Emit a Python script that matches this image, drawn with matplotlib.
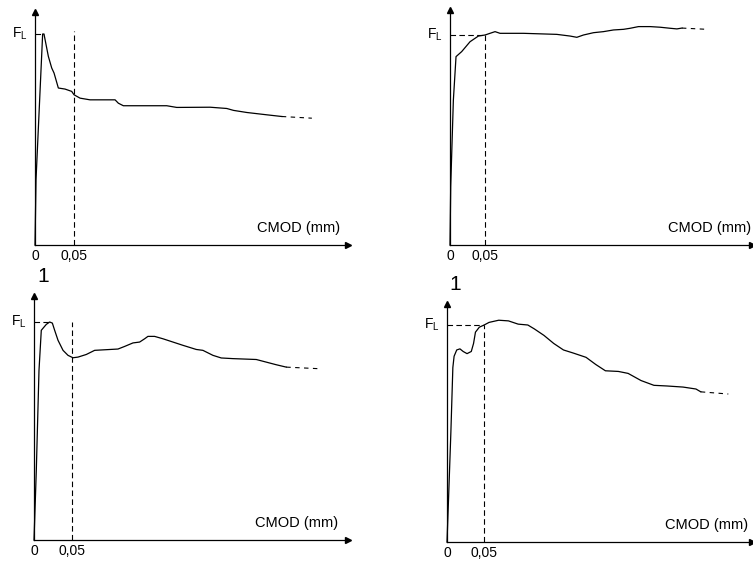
import matplotlib
matplotlib.use('Agg')
import matplotlib.pyplot as plt

plt.rcParams['font.family'] = ['Liberation Sans', 'DejaVu Sans']

# curve data: CMOD (mm) and load relative to F_L
x1 = [0, 0.0013, 0.0098, 0.0115, 0.0171, 0.0214, 0.0244, 0.0299, 0.0385, 0.047,
      0.05, 0.0577, 0.0705, 0.1026, 0.1068, 0.1132, 0.1474, 0.1688, 0.1816,
      0.2244, 0.2457, 0.2543, 0.2714, 0.297, 0.3162]
y1 = [0, 0.31, 1.0, 1.0, 0.894, 0.839, 0.815, 0.744, 0.739, 0.728,
      0.712, 0.696, 0.688, 0.688, 0.672, 0.660, 0.660, 0.660, 0.652,
      0.653, 0.647, 0.638, 0.628, 0.617, 0.609]
tail1 = ([0.3162, 0.3547], [0.609, 0.601])

x2 = [0, 0.001, 0.0048, 0.0086, 0.0167, 0.0286, 0.0405, 0.05, 0.0571, 0.0643,
      0.0714, 0.1048, 0.1524, 0.1714, 0.181, 0.1905, 0.2048, 0.219, 0.2333,
      0.2476, 0.2571, 0.269, 0.2857, 0.3, 0.3143, 0.3238, 0.331]
y2 = [0, 0.278, 0.690, 0.897, 0.921, 0.968, 0.995, 1.0, 1.008, 1.016,
      1.008, 1.008, 1.003, 0.995, 0.989, 1.0, 1.011, 1.016, 1.024,
      1.027, 1.032, 1.040, 1.040, 1.037, 1.032, 1.029, 1.033]
tail2 = ([0.331, 0.3667], [1.033, 1.027])

x3 = [0, 0.003, 0.0065, 0.0095, 0.016, 0.0204, 0.0239, 0.0269, 0.0313, 0.0378,
      0.0443, 0.0508, 0.0573, 0.0681, 0.079, 0.0942, 0.1094, 0.1181, 0.1289,
      0.1376, 0.1441, 0.1484, 0.1571, 0.168, 0.181, 0.194, 0.2114, 0.22,
      0.2331, 0.2439, 0.2591, 0.2895, 0.3025, 0.3155, 0.3286]
y3 = [0, 0.319, 0.778, 0.962, 0.989, 1.0, 0.995, 0.962, 0.916, 0.870,
      0.847, 0.836, 0.839, 0.851, 0.870, 0.873, 0.876, 0.888, 0.904,
      0.908, 0.923, 0.934, 0.934, 0.923, 0.908, 0.893, 0.874, 0.870,
      0.847, 0.835, 0.832, 0.828, 0.816, 0.804, 0.793]
tail3 = ([0.3286, 0.3698], [0.793, 0.786])

x4 = [0, 0.0022, 0.0053, 0.008, 0.0097, 0.0133, 0.0177, 0.0221, 0.0274, 0.0332,
      0.0363, 0.0389, 0.0442, 0.0508, 0.0575, 0.0707, 0.084, 0.0973, 0.1105,
      0.1194, 0.1326, 0.1459, 0.1592, 0.1724, 0.1901, 0.2034, 0.2166, 0.2343,
      0.2476, 0.2653, 0.2829, 0.3006, 0.3227, 0.3404, 0.347]
y4 = [0, 0.208, 0.506, 0.804, 0.856, 0.885, 0.890, 0.878, 0.868, 0.878,
      0.915, 0.967, 0.990, 1.0, 1.012, 1.022, 1.019, 1.004, 1.0,
      0.982, 0.952, 0.915, 0.885, 0.871, 0.851, 0.818, 0.789, 0.786,
      0.777, 0.744, 0.722, 0.719, 0.714, 0.705, 0.692]
tail4 = ([0.347, 0.3846], [0.692, 0.682])

w_mark = 0.05            # CMOD reference value
fl_line_ends = [0.0115, 0.05, 0.02, 0.05]   # end of the F_L dashed line
w_line_tops = [1.013, 1.0, 1.0, 1.0]

W, H = 753, 563
fig = plt.figure(figsize=(W / 100, H / 100), dpi=100)

# pixel boxes: origin x, origin y, x-axis end, y-axis top
boxes = [(35, 245, 348, 12), (450, 245, 752, 10),
         (34, 540, 348, 296), (447, 542, 752, 304)]
fl_px = [34, 35, 322, 325]
xmaxes = [0.401, 0.431, 0.409, 0.417]
label_off = [-91, -84, -93, -87]

curves = [(x1, y1, tail1), (x2, y2, tail2), (x3, y3, tail3), (x4, y4, tail4)]
dash = (0, (5, 3))

for i, (x, y, tail) in enumerate(curves):
    ox, oy, xe, yt = boxes[i]
    ax = fig.add_axes([ox / W, 1 - oy / H, (xe - ox) / W, (oy - yt) / H])
    ax.set_xlim(0, xmaxes[i])
    ax.set_ylim(0, (oy - yt) / (oy - fl_px[i]))
    for s in ['top', 'right']:
        ax.spines[s].set_visible(False)
    for s in ['left', 'bottom']:
        ax.spines[s].set_linewidth(0.9)
    ax.plot([1], [0], '>', color='k', ms=4, transform=ax.transAxes, clip_on=False)
    ax.plot([0], [1], '^', color='k', ms=4, transform=ax.transAxes, clip_on=False)

    ax.plot(x, y, color='k', lw=0.9, clip_on=False)
    ax.plot(tail[0], tail[1], color='k', lw=0.8, linestyle=(0, (4, 4)))
    ax.plot([w_mark, w_mark], [0, w_line_tops[i]], color='k', lw=0.8, linestyle=dash)
    ax.plot([0, fl_line_ends[i]], [1, 1], color='k', lw=0.8, linestyle=dash)

    ax.set_xticks([0, w_mark])
    ax.set_xticklabels(['0', '0,05'], fontsize=10)
    ax.tick_params(axis='x', length=0, pad=3)
    ax.set_yticks([])

    ax.annotate(r'F$_\mathregular{L}$', xy=(0, 1), xycoords=('axes fraction', 'data'),
                xytext=(-5, 0), textcoords='offset points', ha='right', va='center',
                fontsize=10)
    ax.annotate('CMOD (mm)', xy=(1, 0), xycoords='axes fraction',
                xytext=(label_off[i] * 0.72, 12), textcoords='offset points',
                ha='left', va='center', fontsize=10.5, annotation_clip=False)

fig.text(43 / W, 1 - 277 / H, '1', fontsize=15, ha='center', va='center')
fig.text(455 / W, 1 - 285 / H, '1', fontsize=15, ha='center', va='center')

fig.savefig('out.png', dpi=100)
